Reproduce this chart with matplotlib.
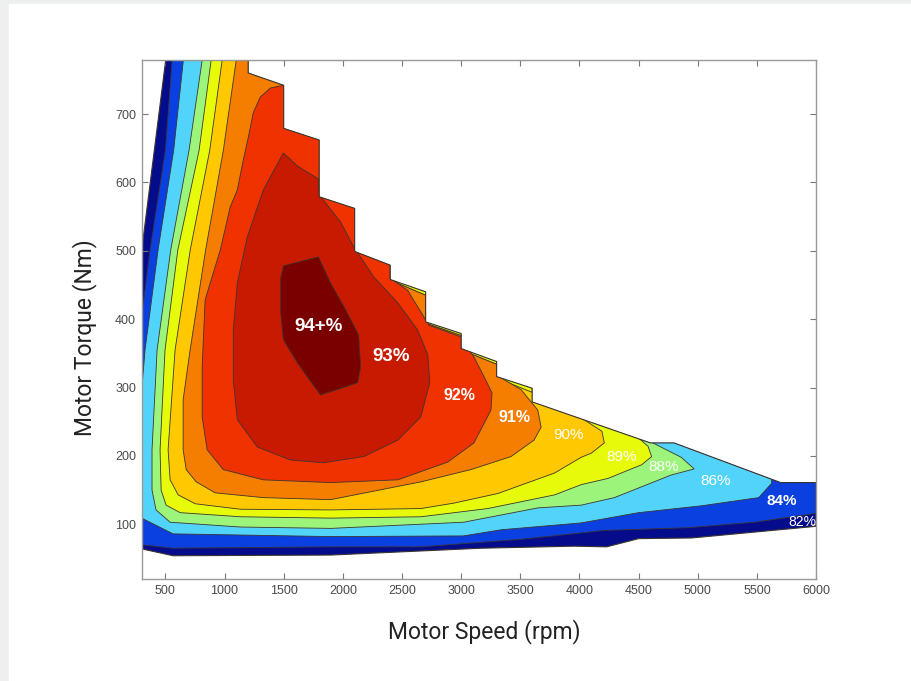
"""Motor efficiency map: torque vs speed, filled efficiency bands"""

import matplotlib
matplotlib.use('Agg')
import matplotlib.pyplot as plt
from matplotlib.patches import Polygon, Rectangle

# outer operating envelope (speed rpm, torque Nm)
env_speed = [300, 518, 1200, 1200, 1500, 1500, 1800, 1800, 2100, 2100, 2400,
             2400, 2700, 2700, 3000, 3000, 3300, 3300, 3600, 3600, 4600, 4800,
             5700, 6000, 6000, 4950, 4500, 4230, 3955, 3170, 1900, 565, 300]
env_torque = [501, 800, 800, 760, 742, 679, 662, 579, 562, 499, 479,
              458, 440, 396, 379, 357, 338, 316, 299, 279, 219, 219,
              161, 161, 97, 80, 79, 67, 68, 65, 55, 54, 64]

# region boundaries for each efficiency level (>= level)
eff84_speed = [575, 557, 500, 370, 311, 300, 250, 250, 300, 565, 1900, 2660,
               3505, 4210, 4920, 5480, 6000, 6100, 6100]
eff84_torque = [800, 779, 647, 501, 420, 406, 406, 70, 70, 65, 67, 67,
                78, 91, 95, 103, 116, 117, 800]

eff86_speed = [670, 652, 570, 438, 328, 300, 250, 250, 300, 565, 1900, 3020,
               3340, 4015, 4500, 5030, 5515, 5625, 5640]
eff86_torque = [800, 779, 647, 501, 355, 296, 296, 109, 109, 86, 82, 83,
                92, 102, 117, 127, 139, 160, 800]

eff88_speed = [830, 811, 700, 545, 430, 387, 387, 421, 540, 1135, 1900, 3020,
               3650, 4015, 4295, 4775, 4970, 4860, 4620, 4620]
eff88_torque = [800, 779, 647, 501, 355, 209, 150, 121, 103, 96, 94, 103,
                124, 128, 139, 172, 181, 198, 219, 800]

eff89_speed = [900, 887, 785, 605, 497, 455, 464, 506, 625, 1135, 1900, 2660,
               3225, 3790, 4015, 4240, 4525, 4610, 4580, 4507, 4450]
eff89_torque = [800, 779, 647, 501, 355, 209, 150, 128, 117, 111, 109, 111,
                123, 143, 158, 167, 187, 199, 214, 225, 800]

eff90_speed = [995, 980, 875, 710, 582, 523, 540, 608, 752, 1135, 1900, 2660,
               2940, 3310, 3790, 4015, 4100, 4210, 4190, 4030, 3900, 3600,
               3600, 3300, 3300, 3000, 3000, 2700, 2700, 2400, 2400]
eff90_torque = [800, 779, 647, 501, 355, 209, 165, 143, 130, 122, 121, 123,
                131, 145, 175, 198, 204, 219, 236, 254, 400, 400,
                293, 314, 334, 355, 376, 394, 435, 457, 800]

eff91_speed = [1115, 1099, 990, 840, 709, 650, 650, 676, 761, 921, 1328, 1896,
               2659, 3083, 3421, 3616, 3676, 3648, 3506, 3300, 3300, 3000,
               3000, 2700, 2700, 2400, 2400]
eff91_torque = [800, 779, 647, 501, 355, 282, 209, 180, 162, 146, 139, 136,
                162, 180, 199, 223, 242, 267, 297, 318, 334, 355,
                376, 394, 435, 457, 800]

eff92_speed = [2400, 2400, 2548, 2700, 2730, 3000, 3110, 3193, 3261, 3252,
               3108, 2887, 2464, 1896, 1328, 989, 853, 811, 811, 836, 879,
               964, 1048, 1108, 1159, 1201, 1243, 1303, 1387, 1497, 1510]
eff92_torque = [800, 460, 442, 399, 391, 374, 344, 316, 292, 267,
                219, 191, 165, 161, 165, 180, 209, 257, 330, 428, 453,
                501, 564, 589, 633, 666, 702, 725, 738, 742, 800]

eff93_speed = [1497, 1616, 1794, 1800, 1981, 2091, 2260, 2464, 2633, 2718,
               2735, 2659, 2464, 2176, 1837, 1557, 1277, 1108, 1074, 1074,
               1108, 1192, 1328]
eff93_torque = [643, 624, 605, 582, 542, 506, 462, 424, 384, 348,
                307, 257, 223, 199, 190, 194, 213, 253, 311, 384,
                453, 520, 589]

eff94_speed = [1497, 1794, 1896, 2023, 2133, 2150, 2125, 1811, 1616, 1497,
               1472, 1472]
eff94_torque = [478, 491, 453, 414, 377, 330, 307, 289, 336, 370,
                414, 457]

band_colors = ['#050c8c', '#0b40e0', '#52d4fa', '#9cf57a', '#e6fa0a',
               '#ffc800', '#f57d00', '#f03200', '#c81a00', '#7a0000']

label_text = ['94+%', '93%', '92%', '91%', '90%', '89%', '88%', '86%',
              '84%', '82%']
label_speed = [1794, 2404, 2989, 3447, 3905, 4354, 4710, 5151, 5710, 5888]
label_torque = [389, 345, 289, 256, 231, 199, 184, 164, 134, 104]
label_size = [13.5, 13.5, 11.5, 11.5, 11, 11, 11, 11, 11, 10]
label_weight = ['bold', 'bold', 'bold', 'bold', 'normal', 'normal',
                'normal', 'normal', 'bold', 'normal']

LINE = '#3c3430'

fig = plt.figure(figsize=(9.12, 6.81), dpi=100)
fig.patches.append(Rectangle((0, 0), 1, 1, transform=fig.transFigure,
                             color='#eef0ef', zorder=-10))
fig.patches.append(Rectangle((9 / 912, 0), 1, 1 - 4 / 681,
                             transform=fig.transFigure,
                             color='white', zorder=-9))

ax = fig.add_axes([0.1554, 0.1498, 0.7394, 0.7621])
ax.set_xlim(300, 6000)
ax.set_ylim(20, 779)

env = Polygon(list(zip(env_speed, env_torque)), closed=True,
              facecolor=band_colors[0], edgecolor='none', zorder=1)
ax.add_patch(env)

regions = [(eff84_speed, eff84_torque), (eff86_speed, eff86_torque),
           (eff88_speed, eff88_torque), (eff89_speed, eff89_torque),
           (eff90_speed, eff90_torque), (eff91_speed, eff91_torque),
           (eff92_speed, eff92_torque), (eff93_speed, eff93_torque),
           (eff94_speed, eff94_torque)]
for number, (spd, trq) in enumerate(regions):
    patch = ax.fill(spd, trq, facecolor=band_colors[number + 1],
                    edgecolor=LINE, linewidth=0.6, zorder=2 + number)[0]
    patch.set_clip_path(env)

outline = Polygon(list(zip(env_speed, env_torque)), closed=True,
                  fill=False, edgecolor=LINE, linewidth=0.8, zorder=20)
ax.add_patch(outline)

for txt, xs, ys, size, weight in zip(label_text, label_speed, label_torque,
                                     label_size, label_weight):
    ax.text(xs, ys, txt, color='white', fontsize=size, fontweight=weight,
            family='Liberation Sans', ha='center', va='center', zorder=30)

ax.set_xticks(range(500, 6001, 500))
ax.set_yticks(range(100, 701, 100))
ax.tick_params(direction='in', top=True, right=True, length=4, width=0.8,
               color='#777777', labelsize=9, labelcolor='#4a4a4a', pad=4)
for label in ax.get_xticklabels() + ax.get_yticklabels():
    label.set_family('Liberation Sans')
for spine in ax.spines.values():
    spine.set_color('#9a9a9a')
    spine.set_linewidth(1.0)
    spine.set_zorder(25)

fig.text(484 / 912, 1 - 632 / 681, 'Motor Speed (rpm)', ha='center',
         va='center', fontsize=16.5, family='Roboto', color='#222222')
fig.text(85 / 912, 1 - 338 / 681, 'Motor Torque (Nm)', ha='center',
         va='center', rotation=90, fontsize=16.5, family='Roboto',
         color='#222222')

fig.savefig('out.png', dpi=100)
